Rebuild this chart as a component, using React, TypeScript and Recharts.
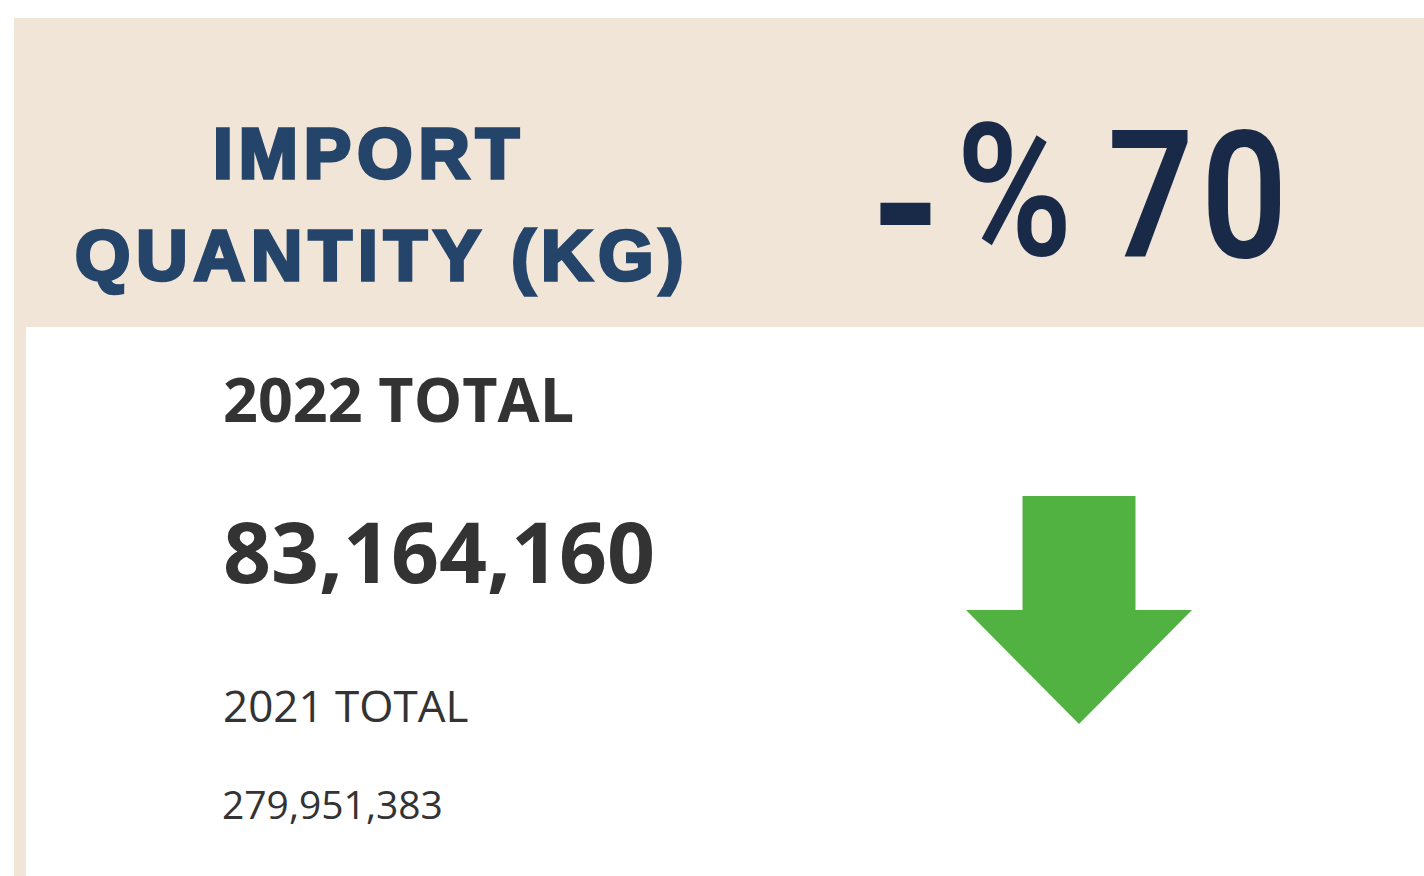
import React from "react";
import { ComposedChart, XAxis, YAxis, ReferenceArea } from "recharts";

const W = 1424;
const H = 876;

const titleLines = ["IMPORT", "QUANTITY (KG)"];
const periodLabels = ["2022 TOTAL", "2021 TOTAL"];
const periodTotals = [83164160, 279951383];
const changeChars = ["-", "%", "7", "0"];

const BEIGE = "#F1E5D8";
const TITLE_BLUE = "#25446A";
const NAVY = "#182A47";
const GREY = "#333333";
const GREEN = "#52B241";

const fmt = (n: number) => n.toLocaleString("en-US");

const ArrowShape = (props: any) => {
  const { x, y, width, height } = props;
  const sx1 = x + width * 0.25;
  const sx2 = x + width * 0.75;
  const sh = y + height * 0.5;
  const pts = [
    [sx1, y],
    [sx2, y],
    [sx2, sh],
    [x + width, sh],
    [x + width / 2, y + height],
    [x, sh],
    [sx1, sh],
  ];
  return <polygon points={pts.map((p) => p.join(",")).join(" ")} fill={GREEN} />;
};

const SX = 0.85;
const changeX = [871.6, 956, 1107.6, 1201];
const changeY = [281, 255, 257, 257];
const changeSize = [220, 186, 178, 178];

const HeaderShape = (props: any) => {
  const { x, y, width, height } = props;
  return (
    <g>
      <rect x={x} y={y} width={width} height={height} fill={BEIGE} />
      <text x={213} y={178} fill={TITLE_BLUE} stroke={TITLE_BLUE} strokeWidth={3.5} fontFamily="'Liberation Sans', Arial, sans-serif" fontWeight={700} fontSize={71} letterSpacing={6}>
        {titleLines[0]}
      </text>
      <text x={75} y={280} fill={TITLE_BLUE} stroke={TITLE_BLUE} strokeWidth={3.5} fontFamily="'Liberation Sans', Arial, sans-serif" fontWeight={700} fontSize={71} letterSpacing={6.1}>
        {titleLines[1]}
      </text>
      <text transform={`scale(${SX},1)`} fill={NAVY} fontFamily="Roboto, sans-serif" fontWeight={600}>
        {changeChars.map((c, i) => (
          <tspan key={i} x={changeX[i] / SX} y={changeY[i]} fontSize={changeSize[i]}>{c}</tspan>
        ))}
      </text>
    </g>
  );
};

export default function App() {
  return (
    <div style={{ position: "absolute", left: 0, top: 0, width: W, height: H, background: "#fff" }}>
      <ComposedChart width={W} height={H} data={[{ x: 0, y: 0 }]} margin={{ top: 0, right: 0, bottom: 0, left: 0 }}>
        <XAxis type="number" dataKey="x" domain={[0, W]} hide allowDataOverflow />
        <YAxis type="number" dataKey="y" domain={[0, H]} reversed hide allowDataOverflow />
        <ReferenceArea x1={14} x2={W} y1={18} y2={327} shape={HeaderShape} ifOverflow="visible" />
        <ReferenceArea x1={14} x2={26} y1={327} y2={H} fill={BEIGE} fillOpacity={1} stroke="none" ifOverflow="visible" />
        <ReferenceArea x1={966} x2={1192} y1={496} y2={724} shape={ArrowShape} ifOverflow="visible" />
        <text x={223} y={422} fill={GREY} fontFamily="'Open Sans', sans-serif" fontWeight={700} fontSize={61}>
          {periodLabels[0]}
        </text>
        <text x={223} y={583} fill={GREY} fontFamily="'Open Sans', sans-serif" fontWeight={700} fontSize={84}>
          {fmt(periodTotals[0])}
        </text>
        <text x={223} y={722} fill={GREY} fontFamily="'Open Sans', sans-serif" fontWeight={400} fontSize={44}>
          {periodLabels[1]}
        </text>
        <text x={222} y={819} fill={GREY} fontFamily="'Open Sans', sans-serif" fontWeight={400} fontSize={39}>
          {fmt(periodTotals[1])}
        </text>
      </ComposedChart>
    </div>
  );
}
